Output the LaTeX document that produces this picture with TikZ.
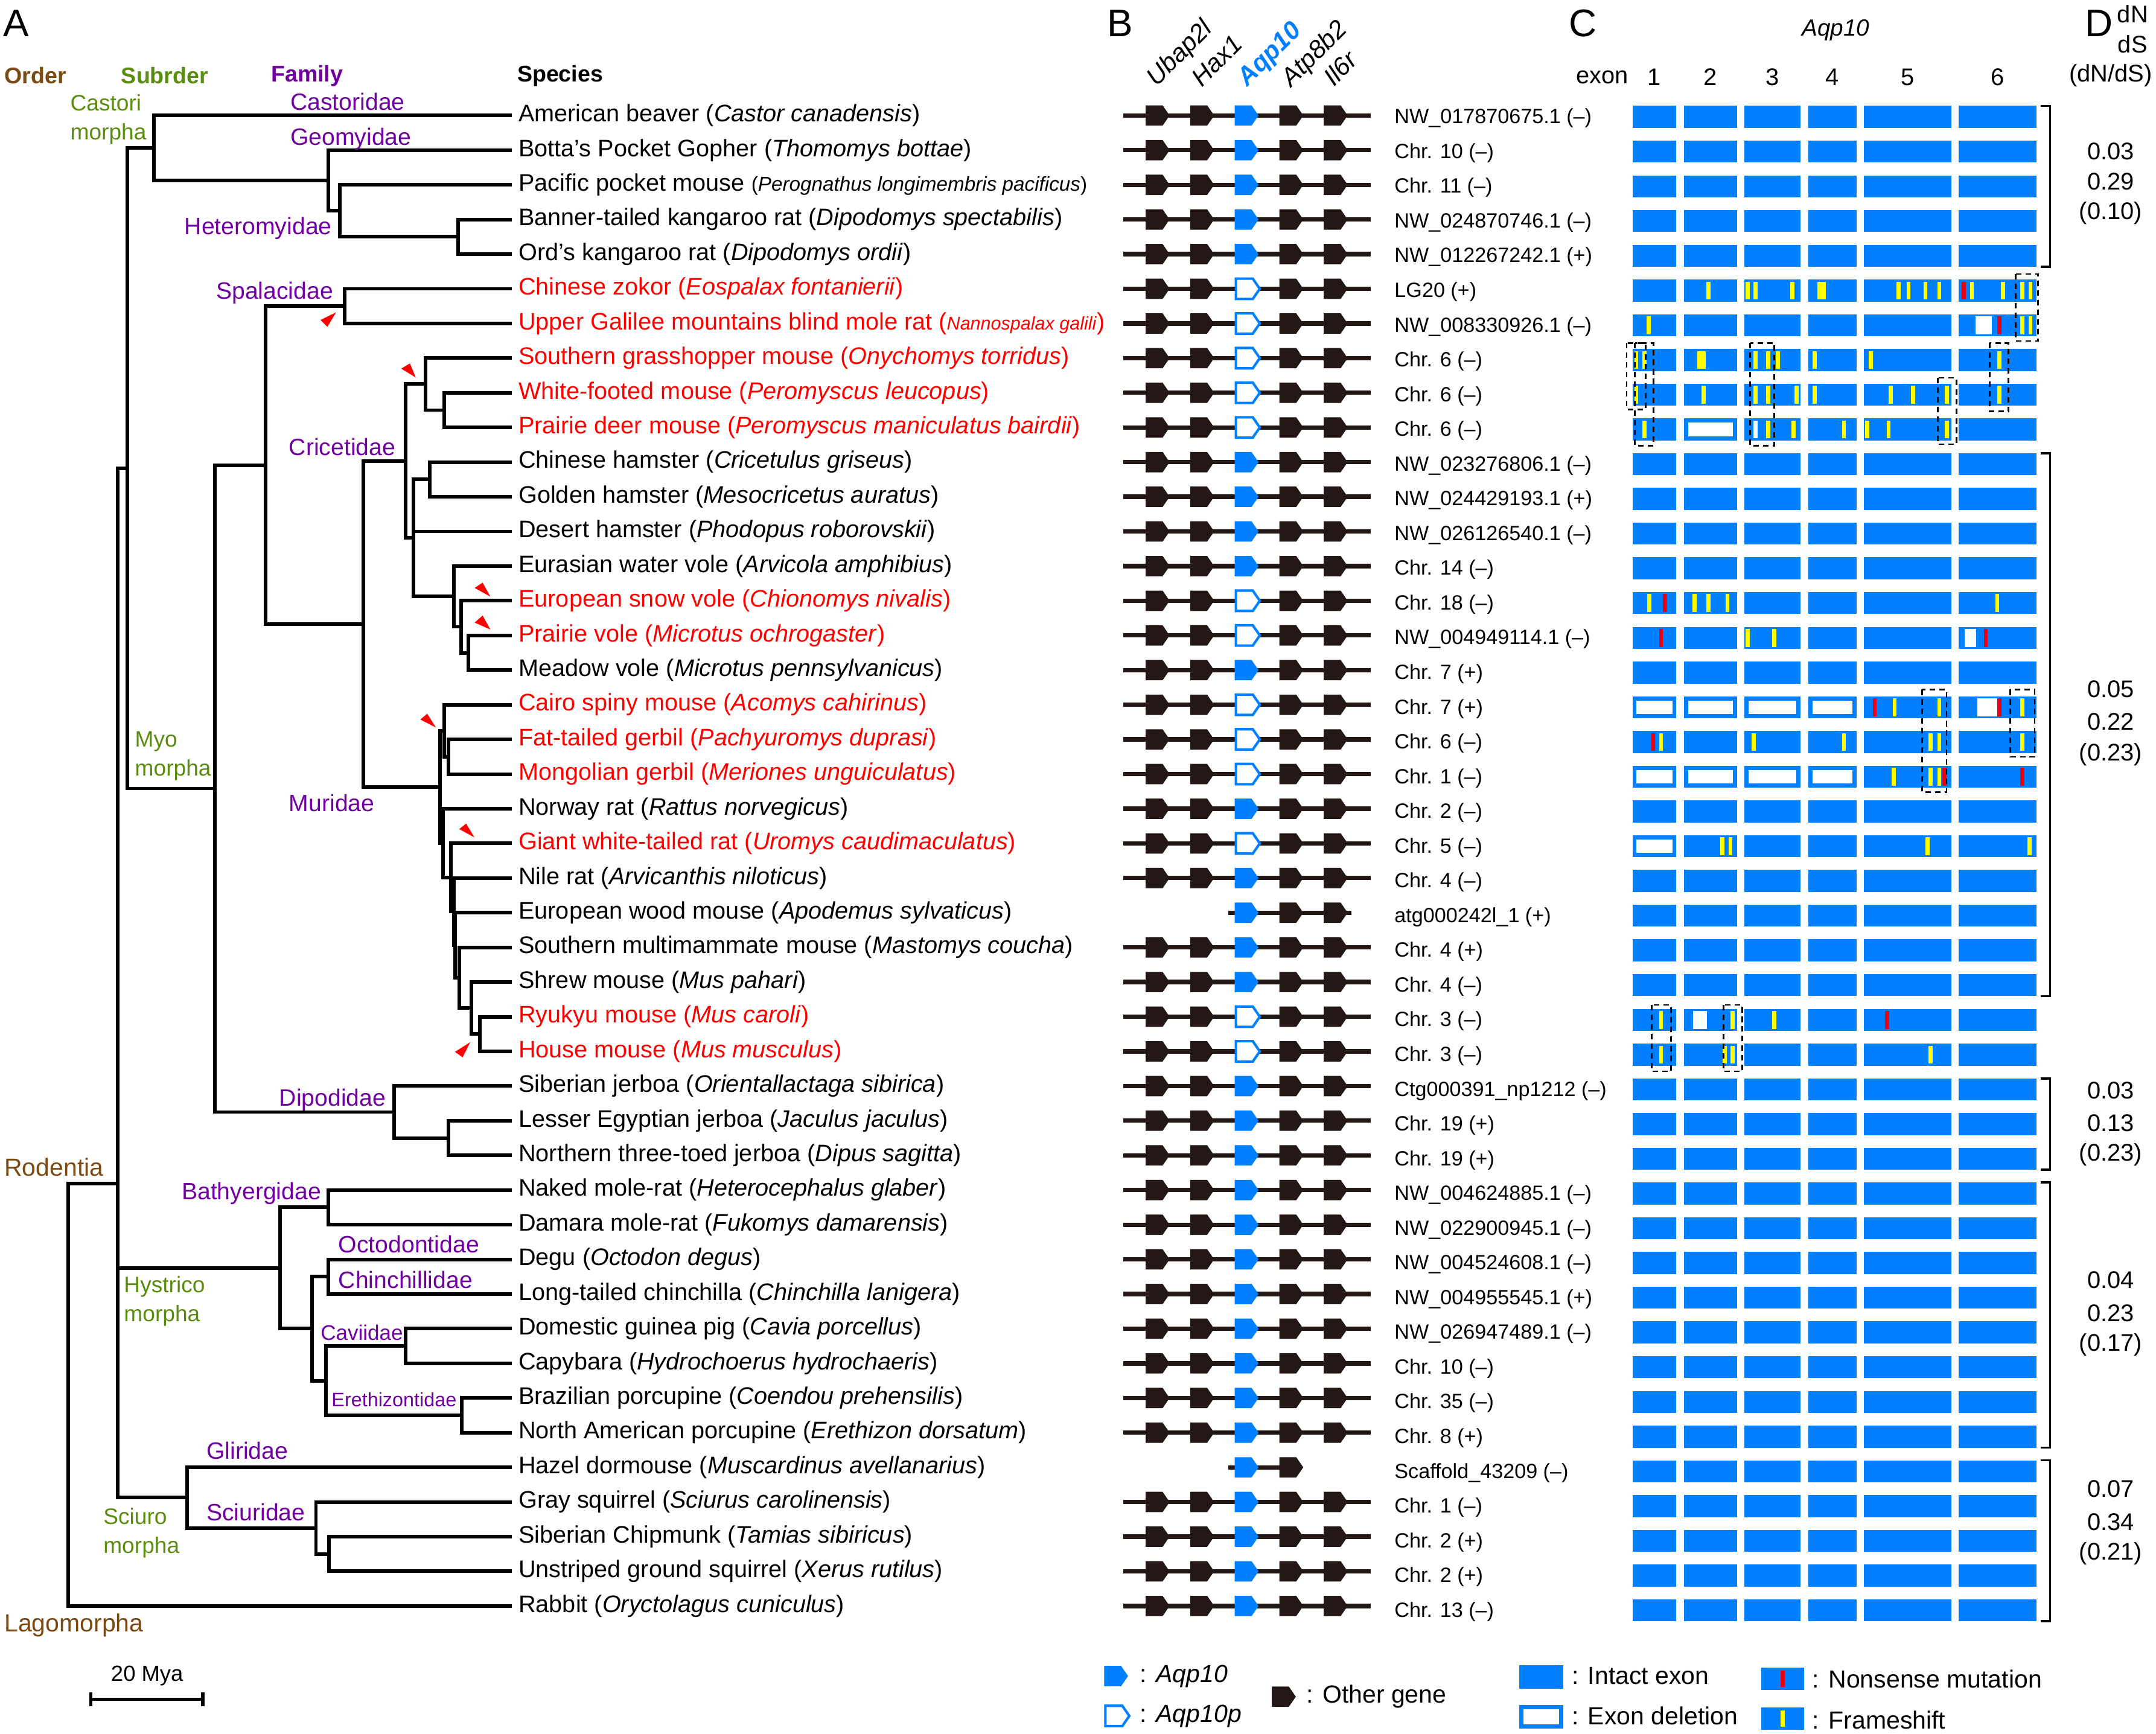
\documentclass[tikz,border=0pt]{standalone}
\usepackage{fontspec}
\setmainfont{Liberation Sans}
\usetikzlibrary{calc}
\definecolor{ablue}{RGB}{0,128,255}
\definecolor{gblack}{RGB}{35,24,21}
\definecolor{obrown}{RGB}{122,74,18}
\definecolor{sgreen}{RGB}{90,140,16}
\definecolor{fpurple}{RGB}{112,0,160}
\definecolor{fsyellow}{RGB}{255,255,0}
\definecolor{nsred}{RGB}{230,0,18}
\newcommand\nd[5]{\draw[tree] (#4,#2) -- (#1,#2) -- (#1,#3) -- (#5,#3);}
\newcommand\gshp[3]{\path[#3] (#1,{#2-7.4}) -- ({#1+12.3},{#2-7.4}) -- ({#1+17.4},#2) -- ({#1+12.3},{#2+7.4}) -- (#1,{#2+7.4}) -- cycle;}
\newcommand\fs[2]{\fill[fsyellow] ({#1-1.5},{85+25.26*#2-6.5}) rectangle ({#1+1.5},{85+25.26*#2+6.5});}
\newcommand\nsm[2]{\fill[nsred] ({#1-1.5},{85+25.26*#2-6.5}) rectangle ({#1+1.5},{85+25.26*#2+6.5});}
\newcommand\wb[3]{\fill[white] (#1,{85+25.26*#3-6.5}) rectangle (#2,{85+25.26*#3+6.5});}
\newcommand\fsw[3]{\fill[fsyellow] (#1,{85+25.26*#3-6.5}) rectangle (#2,{85+25.26*#3+6.5});}
\newcommand\dl[3]{\fill[white] ({#1+3},{85+25.26*#3-5}) rectangle ({#2-3},{85+25.26*#3+5});}
\newcommand\spn[3]{\node[sp,text=#3] (sp#1) at (377,{84+25.21*#1}) {#2};}
\newcommand\acn[2]{\node[acc] (acc#1) at (1014,{86+25.26*#1}) {#2};}
\begin{document}
\begin{tikzpicture}[x=1pt,y=-1pt,
 tree/.style={line width=2.6pt, line cap=rect},
 sp/.style={anchor=west, inner sep=0pt, font=\fontsize{17.4}{20}\selectfont},
 acc/.style={anchor=west, inner sep=0pt, font=\fontsize{15}{18}\selectfont},
 fam/.style={anchor=west, inner sep=0pt, text=fpurple, font=\fontsize{17.2}{20}\selectfont},
 sub/.style={anchor=west, inner sep=0pt, text=sgreen, font=\fontsize{16.3}{21}\selectfont, align=left},
 ord/.style={anchor=west, inner sep=0pt, text=obrown, font=\fontsize{18}{21}\selectfont},
 hdr/.style={anchor=west, inner sep=0pt, font=\fontsize{16.5}{19}\selectfont\bfseries},
 plab/.style={anchor=west, inner sep=0pt, font=\fontsize{28}{32}\selectfont},
 glab/.style={anchor=base west, inner sep=0pt, rotate=45, font=\fontsize{18.5}{21}\selectfont\itshape},
 gline/.style={line width=3.2pt, draw=gblack},
 gother/.style={fill=gblack},
 gaqp/.style={fill=ablue},
 gpse/.style={fill=white, draw=ablue, line width=1.8pt},
 marker/.style={fill=red},
 dbox/.style={draw=black, line width=1.2pt, dash pattern=on 4pt off 3pt},
 brk/.style={line width=1.6pt},
 num/.style={font=\fontsize{17.5}{20}\selectfont, inner sep=0pt},
 leg/.style={anchor=west, inner sep=0pt, font=\fontsize{18}{21}\selectfont},
]
\useasboundingbox (0,0) rectangle (1568,1261);
\fill[white] (0,0) rectangle (1568,1261);

% ---------- panel labels ----------
\node[plab] (pA) at (2,17) {A};
\node[plab] (pB) at (805,17) {B};
\node[plab] (pC) at (1141,17) {C};
\node[plab] (pD) at (1516,17) {D};

% ---------- headers of A ----------
\node[hdr,text=obrown] (hOrd) at (3,55) {Order};
\node[hdr,text=sgreen] (hSub) at (88,55) {Subrder};
\node[hdr,text=fpurple] (hFam) at (197,55) {Family};
\node[hdr] (hSp) at (376,55) {Species};

% ---------- tree ----------
\nd{333}{159.63}{184.84}{371}{371}
\nd{247}{134.42}{172.24}{371}{333}
\nd{238.9}{109.21}{153.33}{371}{247}
\nd{112}{84}{131.27}{371}{238.9}
\nd{250.7}{210.05}{235.26}{371}{371}
\nd{323}{285.68}{310.89}{371}{371}
\nd{309.5}{260.47}{298.29}{371}{323}
\nd{312.5}{336.1}{361.31}{371}{371}
\nd{340.7}{462.15}{487.36}{371}{371}
\nd{335.2}{436.94}{474.76}{371}{340.7}
\nd{330.1}{411.73}{455.85}{371}{335.2}
\nd{300.6}{348.71}{433.79}{312.5}{330.1}
\draw[tree] (300.6,386.52) -- (371,386.52);
\nd{294.8}{279.38}{391.25}{309.5}{300.6}
\nd{326.3}{537.78}{562.99}{371}{371}
\nd{323}{512.57}{550.39}{371}{326.3}
\nd{349}{739.46}{764.67}{371}{371}
\nd{342.7}{714.25}{752.07}{371}{349}
\nd{334}{689.04}{733.16}{371}{342.7}
\nd{331}{663.83}{711.1}{371}{334}
\nd{330}{638.62}{687.47}{371}{331}
\nd{328}{613.41}{663.04}{371}{330}
\nd{322}{588.2}{638.2}{371}{328}
\nd{320}{531.48}{613.2}{323}{322}
\nd{264.1}{335.32}{572.34}{294.8}{320}
\nd{193.3}{222.66}{453.83}{250.7}{264.1}
\nd{326.3}{815.09}{840.3}{371}{371}
\nd{286.5}{789.88}{827.7}{371}{326.3}
\nd{156.2}{338.25}{808.79}{193.3}{286.5}
\nd{92.5}{107.64}{573.52}{112}{156.2}
\nd{238.9}{865.51}{890.72}{371}{371}
\nd{238.9}{915.93}{941.14}{371}{371}
\nd{294.8}{966.35}{991.56}{371}{371}
\nd{335.9}{1016.77}{1041.98}{371}{371}
\nd{236.9}{978.96}{1029.38}{294.8}{335.9}
\nd{226.8}{928.54}{1004.17}{238.9}{236.9}
\nd{203.6}{878.12}{966.36}{238.9}{226.8}
\nd{239.4}{1117.61}{1142.82}{371}{371}
\nd{229.8}{1092.4}{1130.22}{371}{239.4}
\nd{136}{1067.19}{1111.31}{371}{229.8}
\nd{85.7}{340.58}{1089.25}{92.5}{136}
\draw[tree] (85.7,922.24) -- (203.6,922.24);
\draw[tree] (85.7,861) -- (49.6,861) -- (49.6,1168.03) -- (371,1168.03);

% markers
\fill[marker] (233.1,232.7) -- (244.4,227.2) -- (238.1,237.7) -- cycle;
\fill[marker] (291.8,268.1) -- (298.1,264.3) -- (302.4,274.6) -- cycle;
\fill[marker] (345.2,427.6) -- (351,423.8) -- (356.6,433.9) -- cycle;
\fill[marker] (345.2,452.8) -- (351,447.7) -- (356.6,457.8) -- cycle;
\fill[marker] (305.7,523.3) -- (310.7,519.1) -- (317,529.1) -- cycle;
\fill[marker] (334,603) -- (339,599) -- (345,609) -- cycle;
\fill[marker] (330.9,765) -- (342,758) -- (336.4,769) -- cycle;

% clade labels
\node[sub] (lCas) at (51,87) {Castori\\morpha};
\node[sub] (lMyo) at (98,550) {Myo\\morpha};
\node[sub] (lHys) at (90,946.5) {Hystrico\\morpha};
\node[sub] (lSci) at (75,1115) {Sciuro\\morpha};
\node[ord] (lRod) at (3,849) {Rodentia};
\node[ord] (lLag) at (3,1182) {Lagomorpha};
\node[fam] (fCas) at (211,74) {Castoridae};
\node[fam] (fGeo) at (211,101) {Geomyidae};
\node[fam] (fHet) at (134,166) {Heteromyidae};
\node[fam] (fSpa) at (157,213) {Spalacidae};
\node[fam] (fCri) at (210,325) {Cricetidae};
\node[fam] (fMur) at (210,584) {Muridae};
\node[fam] (fDip) at (203,800) {Dipodidae};
\node[fam] (fBat) at (132,868) {Bathyergidae};
\node[fam] (fOct) at (246,905) {Octodontidae};
\node[fam] (fChi) at (246,931) {Chinchillidae};
\node[fam,font=\fontsize{15.4}{18}\selectfont] (fCav) at (233,969) {Caviidae};
\node[fam,font=\fontsize{14.2}{17}\selectfont] (fEre) at (241,1018) {Erethizontidae};
\node[fam] (fGli) at (150,1055) {Gliridae};
\node[fam] (fSci) at (150,1100) {Sciuridae};

% scale bar
\coordinate (sbL) at (66,1236);
\coordinate (sbR) at (147.4,1236);
\draw[line width=2.4pt] (sbL) -- (sbR);
\draw[line width=2.4pt] (66,1231) -- (66,1241);
\draw[line width=2.4pt] (147.4,1231) -- (147.4,1241);
\node[inner sep=0pt,font=\fontsize{16}{19}\selectfont] (sbT) at (107,1219) {20 Mya};

% ---------- species ----------
\spn{0}{American beaver (\textit{Castor canadensis})}{black}
\spn{1}{Botta's Pocket Gopher (\textit{Thomomys bottae})}{black}
\spn{2}{Pacific pocket mouse {\fontsize{14.6}{17}\selectfont(\textit{Perognathus longimembris pacificus})}}{black}
\spn{3}{Banner-tailed kangaroo rat (\textit{Dipodomys spectabilis})}{black}
\spn{4}{Ord's kangaroo rat (\textit{Dipodomys ordii})}{black}
\spn{5}{Chinese zokor (\textit{Eospalax fontanierii})}{red}
\spn{6}{Upper Galilee mountains blind mole rat ({\fontsize{13.4}{16}\selectfont\textit{Nannospalax galili}})}{red}
\spn{7}{Southern grasshopper mouse (\textit{Onychomys torridus})}{red}
\spn{8}{White-footed mouse (\textit{Peromyscus leucopus})}{red}
\spn{9}{Prairie deer mouse (\textit{Peromyscus maniculatus bairdii})}{red}
\spn{10}{Chinese hamster (\textit{Cricetulus griseus})}{black}
\spn{11}{Golden hamster (\textit{Mesocricetus auratus})}{black}
\spn{12}{Desert hamster (\textit{Phodopus roborovskii})}{black}
\spn{13}{Eurasian water vole (\textit{Arvicola amphibius})}{black}
\spn{14}{European snow vole (\textit{Chionomys nivalis})}{red}
\spn{15}{Prairie vole (\textit{Microtus ochrogaster})}{red}
\spn{16}{Meadow vole (\textit{Microtus pennsylvanicus})}{black}
\spn{17}{Cairo spiny mouse (\textit{Acomys cahirinus})}{red}
\spn{18}{Fat-tailed gerbil (\textit{Pachyuromys duprasi})}{red}
\spn{19}{Mongolian gerbil (\textit{Meriones unguiculatus})}{red}
\spn{20}{Norway rat (\textit{Rattus norvegicus})}{black}
\spn{21}{Giant white-tailed rat (\textit{Uromys caudimaculatus})}{red}
\spn{22}{Nile rat (\textit{Arvicanthis niloticus})}{black}
\spn{23}{European wood mouse (\textit{Apodemus sylvaticus})}{black}
\spn{24}{Southern multimammate mouse (\textit{Mastomys coucha})}{black}
\spn{25}{Shrew mouse (\textit{Mus pahari})}{black}
\spn{26}{Ryukyu mouse (\textit{Mus caroli})}{red}
\spn{27}{House mouse (\textit{Mus musculus})}{red}
\spn{28}{Siberian jerboa (\textit{Orientallactaga sibirica})}{black}
\spn{29}{Lesser Egyptian jerboa (\textit{Jaculus jaculus})}{black}
\spn{30}{Northern three-toed jerboa (\textit{Dipus sagitta})}{black}
\spn{31}{Naked mole-rat (\textit{Heterocephalus glaber})}{black}
\spn{32}{Damara mole-rat (\textit{Fukomys damarensis})}{black}
\spn{33}{Degu (\textit{Octodon degus})}{black}
\spn{34}{Long-tailed chinchilla (\textit{Chinchilla lanigera})}{black}
\spn{35}{Domestic guinea pig (\textit{Cavia porcellus})}{black}
\spn{36}{Capybara (\textit{Hydrochoerus hydrochaeris})}{black}
\spn{37}{Brazilian porcupine (\textit{Coendou prehensilis})}{black}
\spn{38}{North American porcupine (\textit{Erethizon dorsatum})}{black}
\spn{39}{Hazel dormouse (\textit{Muscardinus avellanarius})}{black}
\spn{40}{Gray squirrel (\textit{Sciurus carolinensis})}{black}
\spn{41}{Siberian Chipmunk (\textit{Tamias sibiricus})}{black}
\spn{42}{Unstriped ground squirrel (\textit{Xerus rutilus})}{black}
\spn{43}{Rabbit (\textit{Oryctolagus cuniculus})}{black}

% ---------- B: gene labels ----------
\node[glab] (gU) at (841,63.5) {Ubap2l};
\node[glab] (gH) at (874,64) {Hax1};
\node[glab,text=ablue,font=\fontsize{18.5}{21}\selectfont\bfseries\itshape] (gA) at (907,63.5) {Aqp10};
\node[glab] (gT) at (939,64) {Atp8b2};
\node[glab] (gI) at (970,63.5) {Il6r};

% ---------- B: gene rows ----------
\foreach \i in {0,1,2,3,4,10,11,12,13,16,20,22,24,25,28,29,30,31,32,33,34,35,36,37,38,40,41,42,43} {
  \pgfmathsetmacro\yy{84+25.21*\i}
  \draw[gline] (817,\yy) -- (997,\yy);
  \gshp{833.2}{\yy}{gother}
  \gshp{865.6}{\yy}{gother}
  \gshp{897.9}{\yy}{gaqp}
  \gshp{930.4}{\yy}{gother}
  \gshp{962.7}{\yy}{gother}
}
\foreach \i in {5,6,7,8,9,14,15,17,18,19,21,26,27} {
  \pgfmathsetmacro\yy{84+25.21*\i}
  \draw[gline] (817,\yy) -- (997,\yy);
  \gshp{833.2}{\yy}{gother}
  \gshp{865.6}{\yy}{gother}
  \gshp{898.8}{\yy}{gpse}
  \gshp{930.4}{\yy}{gother}
  \gshp{962.7}{\yy}{gother}
}
\pgfmathsetmacro\yy{84+25.21*23}
\draw[gline] (893.5,\yy) -- (983,\yy);
\gshp{897.9}{\yy}{gaqp}
\gshp{930.4}{\yy}{gother}
\gshp{962.7}{\yy}{gother}
\pgfmathsetmacro\yy{84+25.21*39}
\draw[gline] (893.5,\yy) -- (947,\yy);
\gshp{897.9}{\yy}{gaqp}
\gshp{930.4}{\yy}{gother}

% ---------- accessions ----------
\acn{0}{NW\_017870675.1 (–)}
\acn{1}{Chr. 10 (–)}
\acn{2}{Chr. 11 (–)}
\acn{3}{NW\_024870746.1 (–)}
\acn{4}{NW\_012267242.1 (+)}
\acn{5}{LG20 (+)}
\acn{6}{NW\_008330926.1 (–)}
\acn{7}{Chr. 6 (–)}
\acn{8}{Chr. 6 (–)}
\acn{9}{Chr. 6 (–)}
\acn{10}{NW\_023276806.1 (–)}
\acn{11}{NW\_024429193.1 (+)}
\acn{12}{NW\_026126540.1 (–)}
\acn{13}{Chr. 14 (–)}
\acn{14}{Chr. 18 (–)}
\acn{15}{NW\_004949114.1 (–)}
\acn{16}{Chr. 7 (+)}
\acn{17}{Chr. 7 (+)}
\acn{18}{Chr. 6 (–)}
\acn{19}{Chr. 1 (–)}
\acn{20}{Chr. 2 (–)}
\acn{21}{Chr. 5 (–)}
\acn{22}{Chr. 4 (–)}
\acn{23}{atg000242l\_1 (+)}
\acn{24}{Chr. 4 (+)}
\acn{25}{Chr. 4 (–)}
\acn{26}{Chr. 3 (–)}
\acn{27}{Chr. 3 (–)}
\acn{28}{Ctg000391\_np1212 (–)}
\acn{29}{Chr. 19 (+)}
\acn{30}{Chr. 19 (+)}
\acn{31}{NW\_004624885.1 (–)}
\acn{32}{NW\_022900945.1 (–)}
\acn{33}{NW\_004524608.1 (–)}
\acn{34}{NW\_004955545.1 (+)}
\acn{35}{NW\_026947489.1 (–)}
\acn{36}{Chr. 10 (–)}
\acn{37}{Chr. 35 (–)}
\acn{38}{Chr. 8 (+)}
\acn{39}{Scaffold\_43209 (–)}
\acn{40}{Chr. 1 (–)}
\acn{41}{Chr. 2 (+)}
\acn{42}{Chr. 2 (+)}
\acn{43}{Chr. 13 (–)}

% ---------- C header ----------
\node[inner sep=0pt,font=\fontsize{17}{20}\selectfont\itshape] (cAqp) at (1335,22) {Aqp10};
\node[anchor=west,inner sep=0pt,font=\fontsize{17.5}{20}\selectfont] (cEx) at (1146,56) {exon};
\foreach \x/\n in {1203/1,1244/2,1289/3,1332.5/4,1387.3/5,1452.7/6}
  \node[inner sep=0pt,font=\fontsize{17.5}{20}\selectfont] (cN\n) at (\x,56) {\n};

% ---------- C exons ----------
\foreach \i in {0,...,43} {
  \pgfmathsetmacro\yy{85+25.26*\i}
  \foreach \a/\b in {1187.2/1219.2,1224.7/1263.2,1268.6/1309.5,1315/1350.1,1355.7/1419,1424.3/1481.1}
    \fill[ablue] (\a,{\yy-8}) rectangle (\b,{\yy+8});
}
% row 5
\fs{1242.6}{5}\fs{1270.9}{5}\fs{1276.9}{5}\fs{1303.5}{5}\fs{1323.4}{5}\fs{1326.4}{5}
\fs{1380.9}{5}\fs{1388}{5}\fs{1400.3}{5}\fs{1410.4}{5}\nsm{1428.3}{5}\fs{1434.1}{5}\fs{1456.7}{5}\fs{1470.6}{5}\fs{1476.7}{5}
% row 6
\fs{1198.9}{6}\wb{1436.8}{1448.7}{6}\nsm{1453.9}{6}\fs{1470.6}{6}\fs{1476.7}{6}
% row 7
\fs{1190}{7}\fs{1196.1}{7}\fsw{1234.4}{1240.4}{7}\fs{1276.9}{7}\fs{1286}{7}\fs{1293}{7}\fs{1319.6}{7}\fs{1360.6}{7}\fs{1453.9}{7}
% row 8
\fs{1190}{8}\fs{1238.8}{8}\fs{1276.9}{8}\fs{1286}{8}\fs{1306.7}{8}\fs{1319.6}{8}\fs{1375.1}{8}\fs{1391.4}{8}\fs{1416}{8}\fs{1453.9}{8}
% row 9
\fs{1196.1}{9}\dl{1224.7}{1263.2}{9}\wb{1275.4}{1278.4}{9}\fs{1286}{9}\fs{1304.5}{9}\fs{1341}{9}\fs{1358}{9}\fs{1373.5}{9}\fs{1416}{9}
% row 14
\fs{1199.5}{14}\nsm{1210.8}{14}\fs{1232.5}{14}\fs{1242.6}{14}\fs{1256.3}{14}\fs{1452.5}{14}
% row 15
\nsm{1208}{15}\fs{1270.9}{15}\fs{1290.2}{15}\wb{1428.7}{1437}{15}\nsm{1444.2}{15}
% row 17
\dl{1187.2}{1219.2}{17}\dl{1224.7}{1263.2}{17}\dl{1268.6}{1309.5}{17}\dl{1315}{1350.1}{17}
\nsm{1363.4}{17}\fs{1377.9}{17}\fs{1410.4}{17}\wb{1438.2}{1452.7}{17}\nsm{1454.1}{17}\fs{1470.8}{17}
% row 18
\nsm{1202.3}{18}\fs{1208}{18}\fs{1275.3}{18}\fs{1341}{18}\fs{1403.9}{18}\fs{1410.4}{18}\fs{1470.8}{18}
% row 19
\dl{1187.2}{1219.2}{19}\dl{1224.7}{1263.2}{19}\dl{1268.6}{1309.5}{19}\dl{1315}{1350.1}{19}
\fs{1377.3}{19}\fs{1403.9}{19}\fs{1410.4}{19}\nsm{1414.2}{19}\nsm{1470.8}{19}
% row 21
\dl{1187.2}{1219.2}{21}\fs{1252.5}{21}\fs{1258.5}{21}\fs{1402}{21}\fs{1476}{21}
% row 26
\fs{1208}{26}\wb{1231.3}{1241.4}{26}\fs{1260.2}{26}\fs{1290.2}{26}\nsm{1372.3}{26}
% row 27
\fs{1208}{27}\fs{1254.3}{27}\fs{1260.2}{27}\fs{1403.9}{27}

% dashed boxes
\draw[dbox] (1465.8,199.3) rectangle (1482.3,248);
\draw[dbox] (1183,249.5) rectangle (1196.7,297.8);
\draw[dbox] (1189,249.5) rectangle (1202.7,324.1);
\draw[dbox] (1272.9,249.5) rectangle (1290.4,324.1);
\draw[dbox] (1447,249.5) rectangle (1460.8,299.2);
\draw[dbox] (1409.3,274.8) rectangle (1422.9,323.1);
\draw[dbox] (1398,501.5) rectangle (1415.6,576.1);
\draw[dbox] (1462,501.5) rectangle (1479.7,550.5);
\draw[dbox] (1201.1,730.9) rectangle (1215.2,779.2);
\draw[dbox] (1253.3,730.9) rectangle (1267.2,779.2);

% ---------- D ----------
\node[num] (dN) at (1551,10) {dN};
\node[num] (dS) at (1551,32) {dS};
\node[num] (dR) at (1535,55) {(dN/dS)};
\draw[brk] (1484,77) -- (1491,77) -- (1491,194) -- (1484,194);
\draw[brk] (1484,329.6) -- (1491,329.6) -- (1491,724.5) -- (1484,724.5);
\draw[brk] (1484,784.3) -- (1491,784.3) -- (1491,850.8) -- (1484,850.8);
\draw[brk] (1484,860) -- (1491,860) -- (1491,1052.9) -- (1484,1052.9);
\draw[brk] (1484,1062) -- (1491,1062) -- (1491,1179) -- (1484,1179);
\node[num] (d1a) at (1535,110) {0.03};
\node[num] (d1b) at (1535,132) {0.29};
\node[num] (d1c) at (1535,155) {(0.10)};
\node[num] (d2a) at (1535,501) {0.05};
\node[num] (d2b) at (1535,525) {0.22};
\node[num] (d2c) at (1535,549) {(0.23)};
\node[num] (d3a) at (1535,793) {0.03};
\node[num] (d3b) at (1535,817) {0.13};
\node[num] (d3c) at (1535,840) {(0.23)};
\node[num] (d4a) at (1535,931) {0.04};
\node[num] (d4b) at (1535,955) {0.23};
\node[num] (d4c) at (1535,978) {(0.17)};
\node[num] (d5a) at (1535,1083) {0.07};
\node[num] (d5b) at (1535,1107) {0.34};
\node[num] (d5c) at (1535,1130) {(0.21)};

% ---------- legend ----------
\gshp{803}{1219}{gaqp}
\gshp{803.9}{1248}{gpse}
\gshp{925}{1234}{gother}
\node[leg] (lg1) at (829,1219) {: \textit{Aqp10}};
\node[leg] (lg2) at (829,1248) {: \textit{Aqp10p}};
\node[leg] (lg3) at (950,1234) {: Other gene};
\fill[ablue] (1105,1211) rectangle (1137,1228);
\fill[ablue] (1105,1240) rectangle (1137,1257);
\fill[white] (1108,1243) rectangle (1134,1254);
\node[leg] (lg4) at (1143,1219) {: Intact exon};
\node[leg] (lg5) at (1143,1248) {: Exon deletion};
\fill[ablue] (1281,1213) rectangle (1312,1229);
\fill[nsred] (1295,1215) rectangle (1298,1227);
\fill[ablue] (1281,1242) rectangle (1312,1258);
\fill[fsyellow] (1295,1244) rectangle (1298,1256);
\node[leg] (lg6) at (1318,1221) {: Nonsense mutation};
\node[leg] (lg7) at (1318,1251) {: Frameshift};
\end{tikzpicture}
\end{document}
